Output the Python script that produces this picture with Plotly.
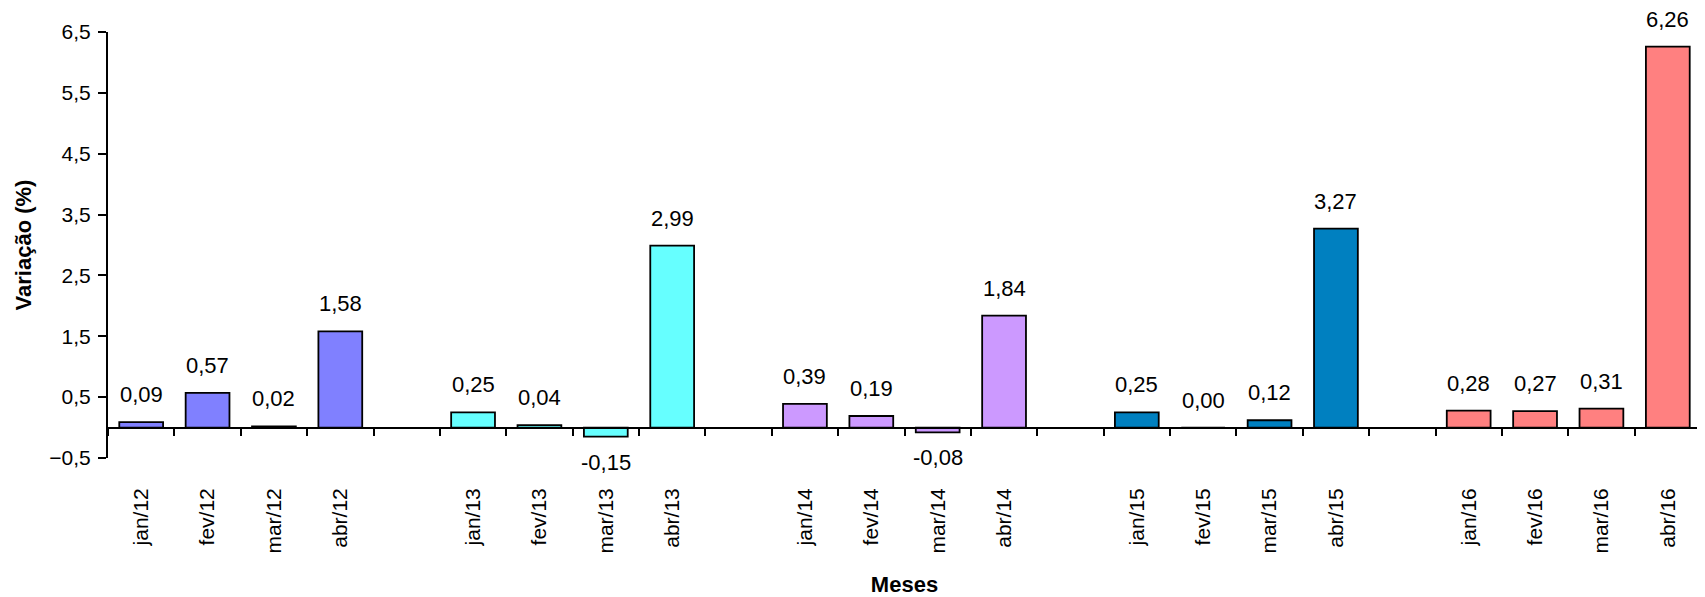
import plotly.graph_objects as go

# ---- data ----
years = ["12", "13", "14", "15", "16"]
months = ["jan", "fev", "mar", "abr"]
values_2012 = [0.09, 0.57, 0.02, 1.58]
values_2013 = [0.25, 0.04, -0.15, 2.99]
values_2014 = [0.39, 0.19, -0.08, 1.84]
values_2015 = [0.25, 0.00, 0.12, 3.27]
values_2016 = [0.28, 0.27, 0.31, 6.26]
year_colors = ["#8080FF", "#66FFFF", "#CC99FF", "#0080C0", "#FF8080"]
y_ticks = [-0.5, 0.5, 1.5, 2.5, 3.5, 4.5, 5.5, 6.5]
y_range = [-0.5, 6.5]

series = [values_2012, values_2013, values_2014, values_2015, values_2016]

# build slots: 4 months per year, one blank slot between years
categories = []
slot_of = []
for yi, yr in enumerate(years):
    if yi > 0:
        categories.append("")
    idx = []
    for m in months:
        idx.append(len(categories))
        categories.append(f"{m}/{yr}")
    slot_of.append(idx)
n_slots = len(categories)

FONT = "Liberation Sans, Arial, sans-serif"

fig = go.Figure()
for yi, vals in enumerate(series):
    fig.add_trace(go.Bar(
        x=slot_of[yi], y=vals,
        width=0.66,
        marker=dict(color=year_colors[yi], line=dict(color="black", width=1.8)),
        showlegend=False, hoverinfo="skip",
    ))

# invisible trace to carry the category axis drawn at y = 0
fig.add_trace(go.Scatter(
    x=[-0.5, n_slots - 0.5], y=[0, 0], xaxis="x2", yaxis="y",
    mode="lines", line=dict(width=0, color="rgba(0,0,0,0)"),
    showlegend=False, hoverinfo="skip",
))

def fmt(v):
    return f"{v:.2f}".replace(".", ",")

annotations = []
for yi, vals in enumerate(series):
    for xi, v in zip(slot_of[yi], vals):
        annotations.append(dict(
            x=xi, y=v, xref="x", yref="y", text=fmt(v), showarrow=False,
            yanchor="bottom" if v >= 0 else "top",
            yshift=13 if v >= 0 else -11,
            font=dict(family=FONT, size=22, color="black"),
        ))

zero_pos = (0 - y_range[0]) / (y_range[1] - y_range[0])
label_slots = [i for i, c in enumerate(categories) if c]
label_text = [c for c in categories if c]

# page body has an 8px default margin, so the figure is 8px smaller
fig.update_layout(
    width=1697, height=589, autosize=False,
    margin=dict(l=100, r=4, t=24, b=139),
    paper_bgcolor="white", plot_bgcolor="white",
    separators=",.",
    barmode="overlay",
    font=dict(family=FONT, color="black"),
    annotations=annotations,
    xaxis=dict(
        automargin=False,
        range=[-0.5, n_slots - 0.5],
        tickmode="array", tickvals=label_slots, ticktext=label_text,
        tickangle=-90, ticks="", showline=False, showgrid=False, zeroline=False,
        tickfont=dict(family=FONT, size=21, color="black"),
        ticklabelstandoff=25,
        title=dict(text="<b>Meses</b>", font=dict(family=FONT, size=22, color="black"),
                   standoff=26),
    ),
    xaxis2=dict(
        automargin=False,
        overlaying="x", anchor="free", position=zero_pos,
        range=[-0.5, n_slots - 0.5],
        tickmode="array", tickvals=[i - 0.5 for i in range(n_slots + 1)],
        showticklabels=False, ticks="outside", ticklen=7, tickwidth=2, tickcolor="black",
        showline=True, linewidth=2, linecolor="black", showgrid=False, zeroline=False,
    ),
    yaxis=dict(
        automargin=False,
        range=y_range, tickmode="array", tickvals=y_ticks, tickformat=".1f",
        ticks="outside", ticklen=8, tickwidth=2, tickcolor="black",
        showline=True, linewidth=2, linecolor="black",
        showgrid=False, zeroline=False,
        tickfont=dict(family=FONT, size=21, color="black"),
        ticklabelstandoff=3,
        title=dict(text="<b>Variação (%)</b>", font=dict(family=FONT, size=22, color="black"),
                   standoff=12),
    ),
)

fig.write_html("out.html")
